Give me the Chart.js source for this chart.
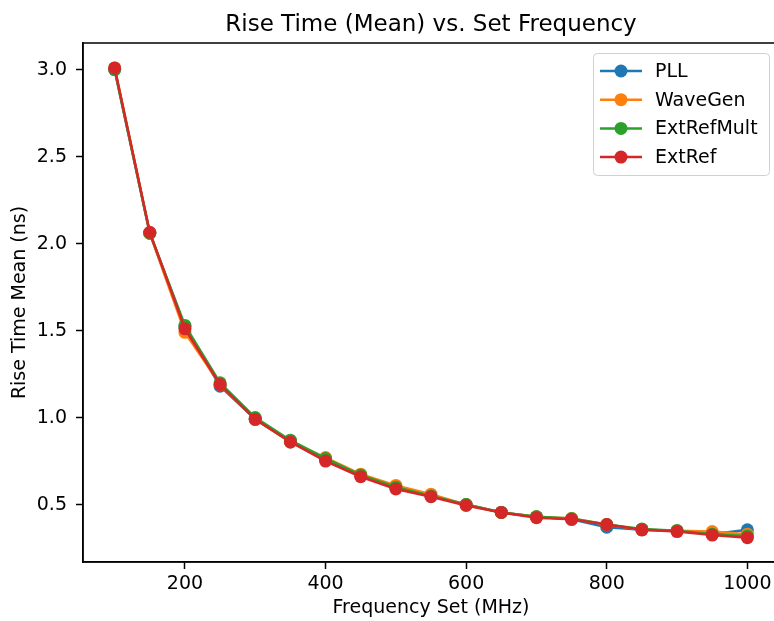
<!DOCTYPE html>
<html>
<head>
<meta charset="utf-8">
<script src="https://cdn.jsdelivr.net/npm/chart.js@4"></script>
<style>
  html, body { margin: 0; padding: 0; background: #fff; overflow: hidden; }
  /* the reference axes run past the right edge of the picture, so the canvas is a bit wider */
  #wrap { width: 792px; height: 621px; }
</style>
</head>
<body>
<div id="wrap"><canvas id="chart"></canvas></div>
<script>
// data
const freqs = [100, 150, 200, 250, 300, 350, 400, 450, 500, 550, 600, 650, 700, 750, 800, 850, 900, 950, 1000];
const pll        = [3.00, 2.06, 1.52, 1.18, 0.99, 0.86, 0.76, 0.67, 0.60, 0.55, 0.50, 0.455, 0.43, 0.415, 0.37, 0.355, 0.35, 0.33, 0.355];
const waveGen    = [3.01, 2.06, 1.49, 1.19, 0.99, 0.86, 0.77, 0.675, 0.61, 0.56, 0.50, 0.455, 0.43, 0.42, 0.385, 0.355, 0.35, 0.345, 0.33];
const extRefMult = [3.00, 2.06, 1.53, 1.20, 1.00, 0.87, 0.765, 0.67, 0.60, 0.55, 0.50, 0.455, 0.43, 0.42, 0.385, 0.36, 0.35, 0.33, 0.32];
const extRef     = [3.01, 2.065, 1.51, 1.19, 0.99, 0.86, 0.75, 0.66, 0.59, 0.545, 0.495, 0.455, 0.425, 0.415, 0.385, 0.355, 0.345, 0.325, 0.31];
const xTicks = [200, 400, 600, 800, 1000];
const yTicks = [0.5, 1.0, 1.5, 2.0, 2.5, 3.0];

const names = ["PLL", "WaveGen", "ExtRefMult", "ExtRef"];
const colors = ["#1f77b4", "#ff7f0e", "#2ca02c", "#d62728"];
const series = [pll, waveGen, extRefMult, extRef];

const FONT = "'DejaVu Sans', sans-serif";
const TITLE = "Rise Time (Mean) vs. Set Frequency";

// box round the plot area + title centred over the axes, like matplotlib
const frame = {
  id: "frame",
  afterDatasetsDraw(chart) {
    const a = chart.chartArea;
    const ctx = chart.ctx;
    ctx.save();
    ctx.strokeStyle = "#000";
    ctx.lineWidth = 1.5;
    ctx.strokeRect(Math.round(a.left), Math.round(a.top),
      Math.round(a.right - a.left), Math.round(a.bottom - a.top));
    ctx.fillStyle = "#000";
    ctx.font = "23px " + FONT;
    ctx.textAlign = "center";
    ctx.textBaseline = "alphabetic";
    ctx.fillText(TITLE, (a.left + a.right) / 2, 31);
    ctx.restore();
  }
};

// legend inside the axes, upper right
const innerLegend = {
  id: "innerLegend",
  afterDraw(chart) {
    const ctx = chart.ctx;
    const a = chart.chartArea;
    const w = 176, h = 122;
    const x0 = a.right - 10 - w, y0 = a.top + 10;
    ctx.save();
    ctx.fillStyle = "rgba(255,255,255,0.8)";
    ctx.strokeStyle = "#d0d0d0";
    ctx.lineWidth = 1;
    ctx.beginPath();
    ctx.roundRect(x0 + 0.5, y0 + 0.5, w, h, 4);
    ctx.fill();
    ctx.stroke();
    ctx.font = "19px " + FONT;
    ctx.textBaseline = "middle";
    names.forEach((n, i) => {
      const y = y0 + 18 + i * 28.7;
      ctx.strokeStyle = colors[i];
      ctx.lineWidth = 2.5;
      ctx.beginPath();
      ctx.moveTo(x0 + 7, y);
      ctx.lineTo(x0 + 49, y);
      ctx.stroke();
      ctx.fillStyle = colors[i];
      ctx.beginPath();
      ctx.arc(x0 + 28, y, 6.5, 0, Math.PI * 2);
      ctx.fill();
      ctx.fillStyle = "#000";
      ctx.fillText(n, x0 + 62, y + 1);
    });
    ctx.restore();
  }
};

new Chart(document.getElementById("chart"), {
  type: "line",
  data: {
    datasets: series.map((vals, i) => ({
      label: names[i],
      data: freqs.map((f, j) => ({ x: f, y: vals[j] })),
      borderColor: colors[i],
      backgroundColor: colors[i],
      borderWidth: 2.5,
      pointRadius: 6.5,
      pointBorderWidth: 0,
      pointHoverRadius: 6.5,
      order: names.length - i
    }))
  },
  options: {
    responsive: true,
    maintainAspectRatio: false,
    animation: false,
    layout: { padding: { left: 0, right: 13, top: 43, bottom: 0 } },
    plugins: {
      legend: { display: false },
      tooltip: { enabled: false },
      title: { display: false }
    },
    scales: {
      x: {
        type: "linear",
        min: 55,
        max: 1045,
        afterBuildTicks: (s) => { s.ticks = xTicks.map(v => ({ value: v })); },
        afterFit: (s) => { s.height = 59; },
        grid: { drawOnChartArea: false, drawTicks: true, tickLength: 7, tickColor: "#000", tickWidth: 1.5 },
        border: { color: "#000", width: 1.5 },
        ticks: { color: "#000", font: { family: FONT, size: 19 }, padding: 4, maxRotation: 0, callback: (v) => String(v) },
        title: {
          display: true,
          text: "Frequency Set (MHz)",
          color: "#000",
          font: { family: FONT, size: 19 },
          padding: { top: 0, bottom: 2 }
        }
      },
      y: {
        min: 0.17,
        max: 3.153,
        afterBuildTicks: (s) => { s.ticks = yTicks.map(v => ({ value: v })); },
        afterFit: (s) => { s.width = 83; },
        grid: { drawOnChartArea: false, drawTicks: true, tickLength: 7, tickColor: "#000", tickWidth: 1.5 },
        border: { color: "#000", width: 1.5 },
        ticks: {
          color: "#000",
          font: { family: FONT, size: 19 },
          padding: 9,
          callback: (v) => v.toFixed(1)
        },
        title: {
          display: true,
          text: "Rise Time Mean (ns)",
          color: "#000",
          font: { family: FONT, size: 19 },
          padding: { top: 9, bottom: 0 }
        }
      }
    }
  },
  plugins: [frame, innerLegend]
});
</script>
</body>
</html>
